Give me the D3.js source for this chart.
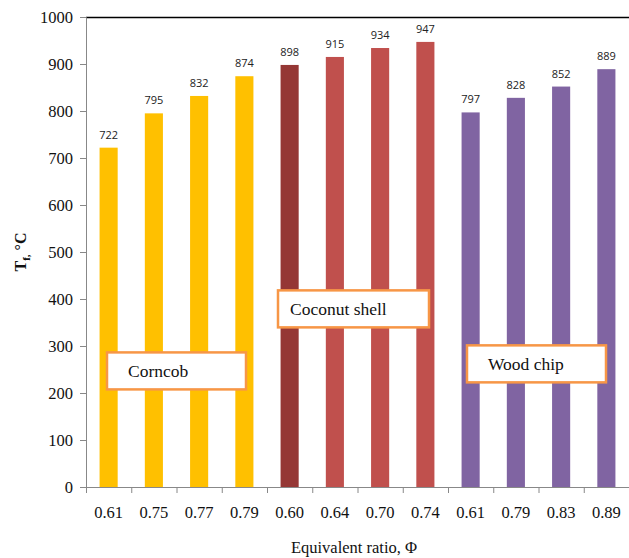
<!DOCTYPE html>
<html>
  <head>
    <style>
      body, html { margin: 0; padding: 0; background: #fff; }
      svg { display: block; }
      .serif { font-family: "Liberation Serif", "Times New Roman", Times, serif; }
      .sans { font-family: "Open Sans", "Liberation Sans", sans-serif; }
    </style>
  </head>
  <body>
    <svg id="svg" width="629" height="558"></svg>
    <script src="https://cdn.jsdelivr.net/npm/d3@7"></script>
    <script>
      const ratios = ['0.61', '0.75', '0.77', '0.79', '0.60', '0.64', '0.70', '0.74', '0.61', '0.79', '0.83', '0.89'];
      const groups = ['corncob', 'corncob', 'corncob', 'corncob', 'coco0', 'coco', 'coco', 'coco', 'wood', 'wood', 'wood', 'wood'];
      const temps = [722, 795, 832, 874, 898, 915, 934, 947, 797, 828, 852, 889];
      const yTicks = [0, 100, 200, 300, 400, 500, 600, 700, 800, 900, 1000];
      const boxLabels = ['Corncob', 'Coconut shell', 'Wood chip'];
      const boxValues = [247, 379, 262]; // box vertical centre, in chart units

      const colors = { corncob: '#FFC000', coco0: '#953735', coco: '#C0504D', wood: '#8064A2' };

      const mLeft = 86, mRight = 629, mTop = 17, mBottom = 487;
      const svg = d3.select('#svg');
      const data = temps.map((t, i) => ({ i, t, label: ratios[i], g: groups[i] }));

      const x = d3.scaleBand().domain(d3.range(12)).range([mLeft, mRight]).paddingInner(0.6).paddingOuter(0.3);
      const xTick = d3.scaleLinear().domain([0, 12]).range([mLeft, mRight]);
      const y = d3.scaleLinear().domain([0, 1000]).range([mBottom, mTop]);

      // top border
      svg.append('line').attr('x1', mLeft).attr('x2', mRight).attr('y1', mTop + 0.5).attr('y2', mTop + 0.5)
        .attr('stroke', '#000').attr('stroke-width', 1.3);

      svg.selectAll('rect.bar').data(data).enter().append('rect')
        .attr('class', 'bar')
        .attr('x', (d) => x(d.i))
        .attr('width', x.bandwidth())
        .attr('y', (d) => y(d.t))
        .attr('height', (d) => y(0) - y(d.t))
        .attr('fill', (d) => colors[d.g]);

      svg.selectAll('text.val').data(data).enter().append('text')
        .attr('class', 'sans')
        .attr('x', (d) => x(d.i) + x.bandwidth() / 2)
        .attr('y', (d) => y(d.t) - 9)
        .attr('text-anchor', 'middle')
        .attr('font-size', 11)
        .attr('fill', '#222')
        .text((d) => d.t);

      // y axis
      const yAxis = svg.append('g').attr('transform', `translate(${mLeft},0)`)
        .call(d3.axisLeft(y).tickValues(yTicks).tickFormat(d3.format('d')).tickSize(6).tickPadding(7));
      yAxis.attr('font-family', null);
      yAxis.select('.domain').attr('stroke', '#888');
      yAxis.selectAll('.tick line').attr('stroke', '#888');
      yAxis.selectAll('text').attr('class', 'serif').attr('font-size', 16.5).attr('fill', '#111');

      // x axis
      const xAxis = svg.append('g').attr('transform', `translate(0,${mBottom})`)
        .call(d3.axisBottom(xTick).tickValues(d3.range(13)).tickSize(6).tickFormat(''));
      xAxis.select('.domain').attr('stroke', '#888');
      xAxis.selectAll('.tick line').attr('stroke', '#888');

      svg.selectAll('text.cat').data(data).enter().append('text')
        .attr('class', 'serif')
        .attr('x', (d) => x(d.i) + x.bandwidth() / 2)
        .attr('y', mBottom + 31)
        .attr('text-anchor', 'middle')
        .attr('font-size', 16.5)
        .attr('fill', '#111')
        .text((d) => d.label);

      svg.append('text')
        .attr('class', 'serif')
        .attr('x', 354).attr('y', 553)
        .attr('text-anchor', 'middle')
        .attr('font-size', 16.5)
        .attr('fill', '#111')
        .text('Equivalent ratio, Φ');

      const yt = svg.append('text')
        .attr('class', 'serif')
        .attr('transform', 'translate(26,252) rotate(-90)')
        .attr('text-anchor', 'middle')
        .attr('font-weight', 'bold')
        .attr('font-size', 16)
        .attr('fill', '#111');
      yt.append('tspan').text('T');
      yt.append('tspan').attr('font-size', 11).attr('dy', 4).text('f,');
      yt.append('tspan').attr('dy', -4).text(' °C');

      // group labels
      const boxH = 37;
      const boxX = [107, 278, 467], boxW = [139, 151, 139], textPad = [21, 12, 21];
      boxLabels.forEach((name, k) => {
        const cy = y(boxValues[k]);
        svg.append('rect')
          .attr('x', boxX[k]).attr('y', cy - boxH / 2)
          .attr('width', boxW[k]).attr('height', boxH)
          .attr('fill', '#fff').attr('stroke', '#F79646').attr('stroke-width', 2.5);
        svg.append('text')
          .attr('class', 'serif')
          .attr('x', boxX[k] + textPad[k]).attr('y', cy + 6)
          .attr('font-size', 17.5)
          .attr('fill', '#111')
          .text(name);
      });
    </script>
  </body>
</html>
